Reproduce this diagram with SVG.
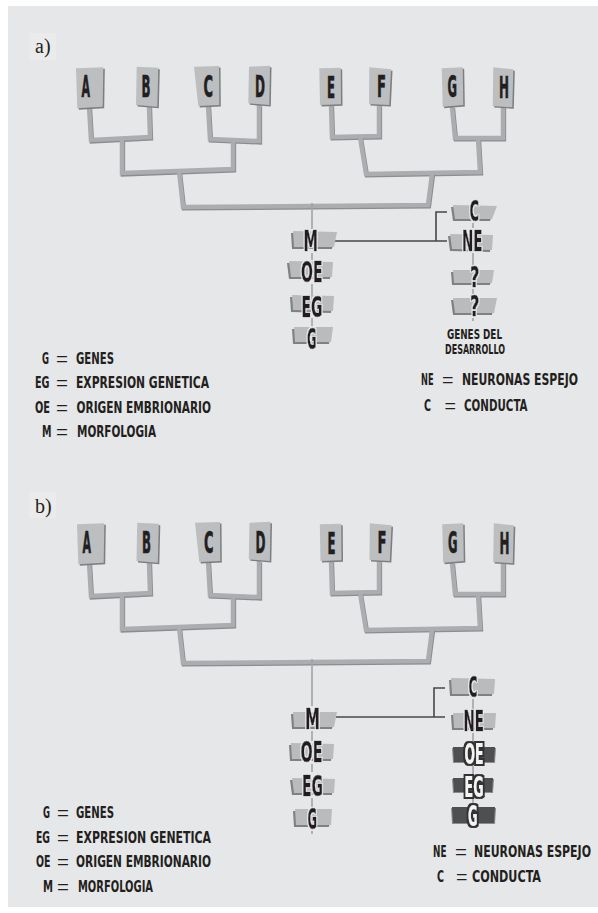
<svg xmlns="http://www.w3.org/2000/svg" width="598" height="913" viewBox="0 0 598 913">
<defs>
<filter id="halo" x="-30%" y="-20%" width="160%" height="140%">
  <feMorphology in="SourceAlpha" operator="dilate" radius="1.3" result="d"/>
  <feFlood flood-color="#e8e9ea"/>
  <feComposite in2="d" operator="in" result="h"/>
  <feMerge><feMergeNode in="h"/><feMergeNode in="SourceGraphic"/></feMerge>
</filter>
<filter id="outl" x="-30%" y="-20%" width="160%" height="140%">
  <feMorphology in="SourceAlpha" operator="dilate" radius="1.5" result="d"/>
  <feFlood flood-color="#313133"/>
  <feComposite in2="d" operator="in" result="h"/>
  <feMerge><feMergeNode in="h"/><feMergeNode in="SourceGraphic"/></feMerge>
</filter>
</defs>
<style>
.bg{fill:#e6e7e8}
.br{fill:none;stroke:#abadb0;stroke-width:4.5;stroke-linejoin:miter}
.brs{fill:none;stroke:#8b8d90;stroke-width:4.5;stroke-linejoin:miter}
.stem{fill:none;stroke:#a2a4a7;stroke-width:1.6}
.conn{fill:none;stroke:#48484a;stroke-width:1.6}
.leaf{fill:#bcbec0}
.leafs{fill:#7c7e81}
.tag{fill:#b9bbbd}
.tags{fill:#7f8184}
.dtag{fill:#4f4f51}
.dtags{fill:#8a8c8f}
.cf{font-family:"DejaVu Sans Condensed","DejaVu Sans","Liberation Sans",sans-serif;font-stretch:condensed;font-weight:bold}
.lt{font-size:30px;fill:#231f20;stroke:#231f20;stroke-width:0.6}
.tt{font-size:29px;fill:#231f20;stroke:#231f20;stroke-width:0.6;filter:url(#halo)}
.dt{font-size:29px;fill:#f4f4f4;filter:url(#outl)}
.lg{font-size:16.5px;fill:#231f20}
.eq{font-family:"Liberation Sans",Arial,sans-serif;font-size:19px;fill:#231f20}
.sm{font-size:13.5px;fill:#231f20}
.pl{font-family:"Liberation Serif","Times New Roman",serif;font-size:20px;fill:#231f20}
</style>
<rect x="0" y="0" width="598" height="913" fill="#ffffff"/>
<rect class="bg" x="8" y="6" width="590" height="901"/>
<rect x="29" y="33" width="27" height="27" fill="#ebebec"/>
<rect x="29" y="492" width="27" height="26" fill="#ebebec"/>

<g id="connectors">
  <g id="tree-a">
    <g transform="translate(0.9,1.3)">
      <path class="brs" d="M89,106 L91,140 L150,137 L149,106"/>
      <path class="brs" d="M208,105 L210,139 L259,141 L259,105"/>
      <path class="brs" d="M122,139 L122,173 L233,169 L233,141"/>
      <path class="brs" d="M331,105 L332,137 L379,136 L379,105"/>
      <path class="brs" d="M452,107 L455,138 L503,138 L503,107"/>
      <path class="brs" d="M360,137 L366,174 L480,172 L478,138"/>
      <path class="brs" d="M179,171 L183,207 L428,205 L432,174"/>
    </g>
    <path class="br" d="M89,106 L91,140 L150,137 L149,106"/>
    <path class="br" d="M208,105 L210,139 L259,141 L259,105"/>
    <path class="br" d="M122,139 L122,173 L233,169 L233,141"/>
    <path class="br" d="M331,105 L332,137 L379,136 L379,105"/>
    <path class="br" d="M452,107 L455,138 L503,138 L503,107"/>
    <path class="br" d="M360,137 L366,174 L480,172 L478,138"/>
    <path class="br" d="M179,171 L183,207 L428,205 L432,174"/>
    <path class="stem" d="M312,203 L312,229 M312,253 L312,260 M312,284 L312,296 M312,318 L312,326"/>
    <path class="stem" d="M473,223 L473,228 M473,253 L473,267 M473,289 L473,296 M473,318 L473,321"/>
    <path class="conn" d="M334,241 L447,241 M447,212 L436,212 L436,241"/>
  </g>
  <g id="tree-b">
    <g transform="translate(0.9,457.3)">
      <path class="brs" d="M89,106 L91,140 L150,137 L149,106"/>
      <path class="brs" d="M208,105 L210,139 L259,141 L259,105"/>
      <path class="brs" d="M122,139 L122,173 L233,169 L233,141"/>
      <path class="brs" d="M331,105 L332,137 L379,136 L379,105"/>
      <path class="brs" d="M452,107 L455,138 L503,138 L503,107"/>
      <path class="brs" d="M360,137 L366,174 L480,172 L478,138"/>
      <path class="brs" d="M179,171 L183,207 L428,205 L432,174"/>
    </g>
    <g transform="translate(0,456)">
      <path class="br" d="M89,106 L91,140 L150,137 L149,106"/>
      <path class="br" d="M208,105 L210,139 L259,141 L259,105"/>
      <path class="br" d="M122,139 L122,173 L233,169 L233,141"/>
      <path class="br" d="M331,105 L332,137 L379,136 L379,105"/>
      <path class="br" d="M452,107 L455,138 L503,138 L503,107"/>
      <path class="br" d="M360,137 L366,174 L480,172 L478,138"/>
      <path class="br" d="M179,171 L183,207 L428,205 L432,174"/>
    </g>
    <path class="stem" d="M312,659 L312,706 M312,731 L312,741 M312,764 L312,772 M312,798 L312,807 M312,831 L312,834"/>
    <path class="stem" d="M473,699 L473,709 M473,733 L473,743 M473,766 L473,774 M473,799 L473,806"/>
    <path class="conn" d="M336,717 L445,717 M445,688 L434,688 L434,717"/>
  </g>
</g>

<text class="pl" x="35" y="53">a)</text>

<g id="a-leaf-A"><polygon class="leafs" points="77.5,69.8 104.8,68.8 104.2,108.2 78.8,109.8"/><polygon class="leaf" points="76,68.3 103.3,67.3 102.7,106.7 77.3,108.3"/><text class="cf lt" x="81.5" y="97" textLength="8.5" lengthAdjust="spacingAndGlyphs">A</text></g>
<g id="a-leaf-B"><polygon class="leafs" points="138.2,68.2 159.8,69.2 158.8,108.2 137.5,106.5"/><polygon class="leaf" points="136.7,66.7 158.3,67.7 157.3,106.7 136,105"/><text class="cf lt" x="141.5" y="97" textLength="9" lengthAdjust="spacingAndGlyphs">B</text></g>
<g id="a-leaf-C"><polygon class="leafs" points="195.5,68.2 220.5,67.5 220.8,106.5 199.8,107.5"/><polygon class="leaf" points="194,66.7 219,66 219.3,105 198.3,106"/><text class="cf lt" x="203.5" y="97" textLength="9.5" lengthAdjust="spacingAndGlyphs">C</text></g>
<g id="a-leaf-D"><polygon class="leafs" points="250.5,68.2 271.5,67.2 270.8,106.5 249.8,104.8"/><polygon class="leaf" points="249,66.7 270,65.7 269.3,105 248.3,103.3"/><text class="cf lt" x="255" y="96.5" textLength="10" lengthAdjust="spacingAndGlyphs">D</text></g>
<g id="a-leaf-E"><polygon class="leafs" points="320.8,69.8 342.2,69.2 342.5,105.8 321.5,106.5"/><polygon class="leaf" points="319.3,68.3 340.7,67.7 341,104.3 320,105"/><text class="cf lt" x="327" y="97.5" textLength="8" lengthAdjust="spacingAndGlyphs">E</text></g>
<g id="a-leaf-F"><polygon class="leafs" points="370.8,68.8 392.5,70.8 390.8,106.5 370.5,105.5"/><polygon class="leaf" points="369.3,67.3 391,69.3 389.3,105 369,104"/><text class="cf lt" x="377" y="97" textLength="9" lengthAdjust="spacingAndGlyphs">F</text></g>
<g id="a-leaf-G"><polygon class="leafs" points="443.2,69.8 464.2,68.8 464.8,106.5 444.2,108.2"/><polygon class="leaf" points="441.7,68.3 462.7,67.3 463.3,105 442.7,106.7"/><text class="cf lt" x="447.5" y="97" textLength="9.5" lengthAdjust="spacingAndGlyphs">G</text></g>
<g id="a-leaf-H"><polygon class="leafs" points="494.8,68.8 514.8,70.8 513.8,108.8 494.2,107.5"/><polygon class="leaf" points="493.3,67.3 513.3,69.3 512.3,107.3 492.7,106"/><text class="cf lt" x="499" y="98" textLength="10" lengthAdjust="spacingAndGlyphs">H</text></g>

<g id="a-tag-M"><polygon class="tags" points="291,233 335,234 332,249 292,249"/><polygon class="tag" points="293,231 337,232 334,247 294,247"/><text class="cf tt" x="303.5" y="251" textLength="14.5" lengthAdjust="spacingAndGlyphs">M</text></g>
<g id="a-tag-OE"><polygon class="tags" points="287,263 331,264 330,279 289,279"/><polygon class="tag" points="289,261 333,262 332,277 291,277"/><text class="cf tt" x="301" y="282" textLength="21.5" lengthAdjust="spacingAndGlyphs">OE</text></g>
<g id="a-tag-EG"><polygon class="tags" points="290,297 332,298 331,313 291,312"/><polygon class="tag" points="292,295 334,296 333,311 293,310"/><text class="cf tt" x="301.5" y="316.5" textLength="21" lengthAdjust="spacingAndGlyphs">EG</text></g>
<g id="a-tag-G"><polygon class="tags" points="292,329 331,329 329,344 293,344"/><polygon class="tag" points="294,327 333,327 331,342 295,342"/><text class="cf tt" x="307" y="349" textLength="9.5" lengthAdjust="spacingAndGlyphs">G</text></g>

<g id="a-tag-C"><polygon class="tags" points="451,207 495,208 490,221 453,221"/><polygon class="tag" points="453,205 497,206 492,219 455,219"/><text class="cf tt" x="469.5" y="221" textLength="9.5" lengthAdjust="spacingAndGlyphs">C</text></g>
<g id="a-tag-NE"><polygon class="tags" points="448,236 491,237 490,252 450,251"/><polygon class="tag" points="450,234 493,235 492,250 452,249"/><text class="cf tt" x="462" y="251" textLength="20.5" lengthAdjust="spacingAndGlyphs">NE</text></g>
<g id="a-tag-Q1"><polygon class="tags" points="451,272 492,272 490,285 452,285"/><polygon class="tag" points="453,270 494,270 492,283 454,283"/><text class="cf tt" x="470" y="287" textLength="9.5" lengthAdjust="spacingAndGlyphs">?</text></g>
<g id="a-tag-Q2"><polygon class="tags" points="451,300 495,300 492,315 453,315"/><polygon class="tag" points="453,298 497,298 494,313 455,313"/><text class="cf tt" x="470" y="316" textLength="9.5" lengthAdjust="spacingAndGlyphs">?</text></g>
<g id="a-genes-label"><text class="cf sm" x="447" y="339" textLength="55" lengthAdjust="spacingAndGlyphs">GENES DEL</text><text class="cf sm" x="445" y="354" textLength="60" lengthAdjust="spacingAndGlyphs">DESARROLLO</text></g>

<g id="a-legend-left">
  <text class="cf lg" x="42" y="364" textLength="7" lengthAdjust="spacingAndGlyphs">G</text><text class="eq" x="56" y="365" textLength="12" lengthAdjust="spacingAndGlyphs">=</text><text class="cf lg" x="76" y="364" textLength="38" lengthAdjust="spacingAndGlyphs">GENES</text>
  <text class="cf lg" x="35" y="388" textLength="14.5" lengthAdjust="spacingAndGlyphs">EG</text><text class="eq" x="56" y="389" textLength="12" lengthAdjust="spacingAndGlyphs">=</text><text class="cf lg" x="76" y="388" textLength="133" lengthAdjust="spacingAndGlyphs">EXPRESION GENETICA</text>
  <text class="cf lg" x="35" y="413" textLength="15" lengthAdjust="spacingAndGlyphs">OE</text><text class="eq" x="56" y="414" textLength="12" lengthAdjust="spacingAndGlyphs">=</text><text class="cf lg" x="76.5" y="413" textLength="134.5" lengthAdjust="spacingAndGlyphs">ORIGEN EMBRIONARIO</text>
  <text class="cf lg" x="42" y="437" textLength="9.5" lengthAdjust="spacingAndGlyphs">M</text><text class="eq" x="56" y="438" textLength="12" lengthAdjust="spacingAndGlyphs">=</text><text class="cf lg" x="77" y="437" textLength="79" lengthAdjust="spacingAndGlyphs">MORFOLOGIA</text>
</g>
<g id="a-legend-right">
  <text class="cf lg" x="421" y="385" textLength="12.5" lengthAdjust="spacingAndGlyphs">NE</text><text class="eq" x="442" y="386" textLength="11.5" lengthAdjust="spacingAndGlyphs">=</text><text class="cf lg" x="462" y="385" textLength="116" lengthAdjust="spacingAndGlyphs">NEURONAS ESPEJO</text>
  <text class="cf lg" x="424" y="411" textLength="7" lengthAdjust="spacingAndGlyphs">C</text><text class="eq" x="444.5" y="412" textLength="11.5" lengthAdjust="spacingAndGlyphs">=</text><text class="cf lg" x="464" y="411" textLength="63.5" lengthAdjust="spacingAndGlyphs">CONDUCTA</text>
</g>

<text class="pl" x="35" y="513">b)</text>

<g id="b-leaf-A"><polygon class="leafs" points="78.5,525.8 105.8,524.8 105.2,564.2 79.8,565.8"/><polygon class="leaf" points="77,524.3 104.3,523.3 103.7,562.7 78.3,564.3"/><text class="cf lt" x="82.5" y="553" textLength="8.5" lengthAdjust="spacingAndGlyphs">A</text></g>
<g id="b-leaf-B"><polygon class="leafs" points="138.7,524.2 160.3,525.2 159.3,564.2 138,562.5"/><polygon class="leaf" points="137.2,522.7 158.8,523.7 157.8,562.7 136.5,561"/><text class="cf lt" x="142" y="553" textLength="9" lengthAdjust="spacingAndGlyphs">B</text></g>
<g id="b-leaf-C"><polygon class="leafs" points="196.5,524.2 221.5,523.5 221.8,562.5 200.8,563.5"/><polygon class="leaf" points="195,522.7 220,522 220.3,561 199.3,562"/><text class="cf lt" x="204" y="553" textLength="9.5" lengthAdjust="spacingAndGlyphs">C</text></g>
<g id="b-leaf-D"><polygon class="leafs" points="251,524.2 272,523.2 271.3,562.5 250.3,560.8"/><polygon class="leaf" points="249.5,522.7 270.5,521.7 269.8,561 248.8,559.3"/><text class="cf lt" x="255.5" y="552.5" textLength="10" lengthAdjust="spacingAndGlyphs">D</text></g>
<g id="b-leaf-E"><polygon class="leafs" points="321.3,525.8 342.7,525.2 343,561.8 322,562.5"/><polygon class="leaf" points="319.8,524.3 341.2,523.7 341.5,560.3 320.5,561"/><text class="cf lt" x="327.5" y="553.5" textLength="8" lengthAdjust="spacingAndGlyphs">E</text></g>
<g id="b-leaf-F"><polygon class="leafs" points="371.3,524.8 393,526.8 391.3,562.5 371,561.5"/><polygon class="leaf" points="369.8,523.3 391.5,525.3 389.8,561 369.5,560"/><text class="cf lt" x="377.5" y="553" textLength="9" lengthAdjust="spacingAndGlyphs">F</text></g>
<g id="b-leaf-G"><polygon class="leafs" points="443.7,525.8 464.7,524.8 465.3,562.5 444.7,564.2"/><polygon class="leaf" points="442.2,524.3 463.2,523.3 463.8,561 443.2,562.7"/><text class="cf lt" x="448" y="553" textLength="9.5" lengthAdjust="spacingAndGlyphs">G</text></g>
<g id="b-leaf-H"><polygon class="leafs" points="495.3,524.8 515.3,526.8 514.3,564.8 494.7,563.5"/><polygon class="leaf" points="493.8,523.3 513.8,525.3 512.8,563.3 493.2,562"/><text class="cf lt" x="499.5" y="554" textLength="10" lengthAdjust="spacingAndGlyphs">H</text></g>

<g id="b-tag-M"><polygon class="tags" points="291,714 335,714 332,729 292,729"/><polygon class="tag" points="293,712 337,712 334,727 294,727"/><text class="cf tt" x="305" y="729" textLength="15" lengthAdjust="spacingAndGlyphs">M</text></g>
<g id="b-tag-OE"><polygon class="tags" points="289,745 332,746 331,761 290,761"/><polygon class="tag" points="291,743 334,744 333,759 292,759"/><text class="cf tt" x="300.5" y="762" textLength="22" lengthAdjust="spacingAndGlyphs">OE</text></g>
<g id="b-tag-EG"><polygon class="tags" points="290,780 333,781 332,795 292,795"/><polygon class="tag" points="292,778 335,779 334,793 294,793"/><text class="cf tt" x="302" y="796" textLength="21" lengthAdjust="spacingAndGlyphs">EG</text></g>
<g id="b-tag-G"><polygon class="tags" points="293,811 330,811 329,827 294,827"/><polygon class="tag" points="295,809 332,809 331,825 296,825"/><text class="cf tt" x="307.5" y="829" textLength="9.5" lengthAdjust="spacingAndGlyphs">G</text></g>

<g id="b-tag-C"><polygon class="tags" points="449,680 493,681 492,696 450,696"/><polygon class="tag" points="451,678 495,679 494,694 452,694"/><text class="cf tt" x="468.5" y="697" textLength="9" lengthAdjust="spacingAndGlyphs">C</text></g>
<g id="b-tag-NE"><polygon class="tags" points="451,715 494,715 493,730 452,730"/><polygon class="tag" points="453,713 496,713 495,728 454,728"/><text class="cf tt" x="463.5" y="731" textLength="20.5" lengthAdjust="spacingAndGlyphs">NE</text></g>
<g id="b-tag-OE"><polygon class="dtags" points="452,748 496,748 495,763 453,763"/><polygon class="dtag" points="453,747 495,747 494,762 454,762"/><text class="cf dt" x="464.5" y="764" textLength="19" lengthAdjust="spacingAndGlyphs">OE</text></g>
<g id="b-tag-EG"><polygon class="dtags" points="452,779 494,779 493,793 453,793"/><polygon class="dtag" points="453,778 493,778 492,792 454,792"/><text class="cf dt" x="464.5" y="797" textLength="19" lengthAdjust="spacingAndGlyphs">EG</text></g>
<g id="b-tag-G"><polygon class="dtags" points="451,808 496,808 495,824 452,824"/><polygon class="dtag" points="452,807 495,807 494,823 453,823"/><text class="cf dt" x="468" y="826" textLength="9.5" lengthAdjust="spacingAndGlyphs">G</text></g>

<g id="b-legend-left">
  <text class="cf lg" x="43" y="818" textLength="7" lengthAdjust="spacingAndGlyphs">G</text><text class="eq" x="57" y="819" textLength="12" lengthAdjust="spacingAndGlyphs">=</text><text class="cf lg" x="76" y="818" textLength="38" lengthAdjust="spacingAndGlyphs">GENES</text>
  <text class="cf lg" x="36" y="843" textLength="14" lengthAdjust="spacingAndGlyphs">EG</text><text class="eq" x="57" y="844" textLength="12" lengthAdjust="spacingAndGlyphs">=</text><text class="cf lg" x="76" y="843" textLength="135" lengthAdjust="spacingAndGlyphs">EXPRESION GENETICA</text>
  <text class="cf lg" x="36" y="867" textLength="14.5" lengthAdjust="spacingAndGlyphs">OE</text><text class="eq" x="57" y="868" textLength="12" lengthAdjust="spacingAndGlyphs">=</text><text class="cf lg" x="76" y="867" textLength="135" lengthAdjust="spacingAndGlyphs">ORIGEN EMBRIONARIO</text>
  <text class="cf lg" x="43" y="892" textLength="10" lengthAdjust="spacingAndGlyphs">M</text><text class="eq" x="57" y="893" textLength="12" lengthAdjust="spacingAndGlyphs">=</text><text class="cf lg" x="78" y="892" textLength="75" lengthAdjust="spacingAndGlyphs">MORFOLOGIA</text>
</g>
<g id="b-legend-right">
  <text class="cf lg" x="433" y="857" textLength="13.5" lengthAdjust="spacingAndGlyphs">NE</text><text class="eq" x="455" y="858" textLength="12" lengthAdjust="spacingAndGlyphs">=</text><text class="cf lg" x="474" y="857" textLength="117" lengthAdjust="spacingAndGlyphs">NEURONAS ESPEJO</text>
  <text class="cf lg" x="437" y="882" textLength="7" lengthAdjust="spacingAndGlyphs">C</text><text class="eq" x="456" y="883" textLength="11.5" lengthAdjust="spacingAndGlyphs">=</text><text class="cf lg" x="472" y="882" textLength="69" lengthAdjust="spacingAndGlyphs">CONDUCTA</text>
</g>
</svg>
